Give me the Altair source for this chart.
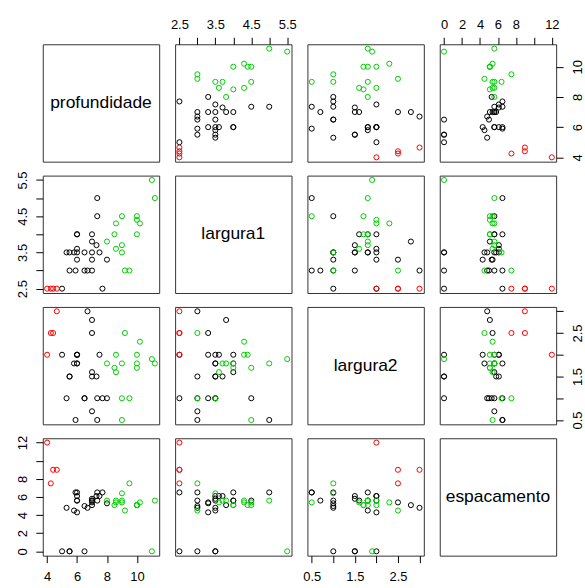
import altair as alt
import pandas as pd

grupo = (["1"] * 25) + (["3"] * 15) + (["2"] * 4)

profundidade = [7.35, 7.35, 6.0, 7.0, 7.0, 7.3, 6.0, 5.3, 5.5, 5.8, 6.0, 6.5, 7.0, 7.5, 6.0,
                7.0, 8.0, 5.5, 5.9, 6.5, 6.7, 7.0, 5.0, 7.7, 6.0,
                11.2, 11.0, 10.0, 10.2, 10.0, 10.0, 9.5, 9.2, 9.0, 9.0, 9.0, 8.6, 8.6, 8.5, 8.0,
                4.0, 4.25, 4.4, 4.65]
largura1 = [5.0, 4.5, 4.0, 4.0, 3.8, 3.7, 3.6, 3.5, 3.5, 3.5, 3.5, 3.5, 3.5, 3.5, 3.3,
            3.3, 3.3, 3.0, 3.0, 3.0, 3.0, 3.0, 2.5, 2.5, 4.0,
            5.0, 5.5, 4.0, 4.3, 4.4, 4.5, 3.0, 3.0, 3.5, 3.7, 4.5, 3.6, 4.3, 4.0, 3.8,
            2.5, 2.5, 2.5, 2.5]
largura2 = [0.5, 1.0, 1.8, 1.6, 2.8, 1.5, 2.0, 1.0, 1.5, 1.8, 1.8, 1.0, 1.5, 2.0, 2.0,
            2.5, 1.0, 1.5, 0.5, 1.0, 3.0, 0.7, 2.0, 1.0, 2.0,
            1.8, 1.9, 1.8, 2.3, 2.0, 1.7, 1.0, 2.5, 1.0, 1.8, 0.5, 1.6, 2.0, 1.7, 1.8,
            2.0, 2.5, 2.5, 3.0]
espacamento = [6.5, 5.6, 6.5, 5.6, 5.1, 6.1, 6.1, 4.8, 0.0, 4.5, 5.6, 0.0, 5.8, 6.1, 4.3,
               5.4, 5.3, 0.0, 6.5, 5.0, 4.8, 5.6, 0.0, 6.5, 5.6,
               5.6, 0.0, 5.1, 5.4, 5.1, 5.1, 7.5, 4.5, 6.4, 5.6, 5.4, 5.4, 5.6, 5.1, 5.6,
               12.0, 7.5, 9.0, 9.0]

variaveis = ["profundidade", "largura1", "largura2", "espacamento"]
grupos_cores = ["1", "2", "3"]
cores = ["#000000", "#FF0000", "#00CD00"]

ticks = {
    "profundidade": [4, 6, 8, 10],
    "largura1": [2.5, 3.0, 3.5, 4.0, 4.5, 5.0, 5.5],
    "largura2": [0.5, 1.0, 1.5, 2.0, 2.5, 3.0],
    "espacamento": [0, 2, 4, 6, 8, 10, 12],
}

df = pd.DataFrame({
    "profundidade": profundidade,
    "largura1": largura1,
    "largura2": largura2,
    "espacamento": espacamento,
    "grupo": grupo,
})

def dominio(v):
    lo, hi = df[v].min(), df[v].max()
    r = hi - lo
    return [lo - 0.04 * r, hi + 0.04 * r]

half_expr = "round(datum.value*2) % 2 == 1 ? format(datum.value, '.1f') : ''"
label_expr = {
    "profundidade": "format(datum.value, 'd')",
    "largura1": half_expr,
    "largura2": half_expr,
    "espacamento": "datum.value == 10 ? '' : format(datum.value, 'd')",
}

W, H = 117, 118
FONT = "Liberation Sans"

def eixo(v, orient):
    kw = dict(orient=orient, values=ticks[v], labelExpr=label_expr[v], title=None,
              domain=False, ticks=True, tickSize=7, tickColor="#000000", tickWidth=1,
              labelFontSize=13, labelFont=FONT, labelColor="#000000", grid=False,
              labelFlush=False, labelOverlap=False)
    if orient == "left":
        kw.update(labelAngle=270, labelAlign="center", labelBaseline="bottom", labelPadding=6)
    elif orient == "right":
        kw.update(labelAngle=270, labelAlign="center", labelBaseline="top", labelPadding=8)
    elif orient == "top":
        kw.update(labelAngle=0, labelAlign="center", labelBaseline="bottom", labelPadding=6)
    else:
        kw.update(labelAngle=0, labelAlign="center", labelBaseline="top", labelPadding=8)
    return alt.Axis(**kw)

painel = []
for i, vy in enumerate(variaveis):
    for j, vx in enumerate(variaveis):
        if i == j:
            t = alt.Chart(pd.DataFrame({"nome": [vy]})).mark_text(
                font=FONT, fontSize=17.5, color="#000000", align="center", baseline="middle"
            ).encode(x=alt.value(W / 2), y=alt.value(H / 2), text="nome:N").properties(width=W, height=H)
            painel.append(t)
            continue
        if i == 0 and j in (1, 3):
            xa = eixo(vx, "top")
        elif i == 3 and j in (0, 2):
            xa = eixo(vx, "bottom")
        else:
            xa = None
        if j == 0 and i in (1, 3):
            ya = eixo(vy, "left")
        elif j == 3 and i in (0, 2):
            ya = eixo(vy, "right")
        else:
            ya = None
        xenc = alt.X(f"{vx}:Q", scale=alt.Scale(domain=dominio(vx), zero=False, nice=False),
                     axis=xa)
        yenc = alt.Y(f"{vy}:Q", scale=alt.Scale(domain=dominio(vy), zero=False, nice=False),
                     axis=ya)
        c = alt.Chart(df).mark_point(shape="circle", filled=False, size=26, strokeWidth=1, opacity=1).encode(
            x=xenc, y=yenc,
            color=alt.Color("grupo:N", scale=alt.Scale(domain=grupos_cores, range=cores), legend=None),
        ).properties(width=W, height=H)
        painel.append(c)

chart = alt.concat(*painel, columns=4, spacing=alt.RowColnumber(row=14, column=16), bounds="flush").properties(
    padding={"left": 16, "top": 16, "right": 0, "bottom": 0},
    background="white",
).configure_view(stroke="#333333", strokeWidth=1)

chart.save("out.html", embed_options={"renderer": "svg", "actions": False})
